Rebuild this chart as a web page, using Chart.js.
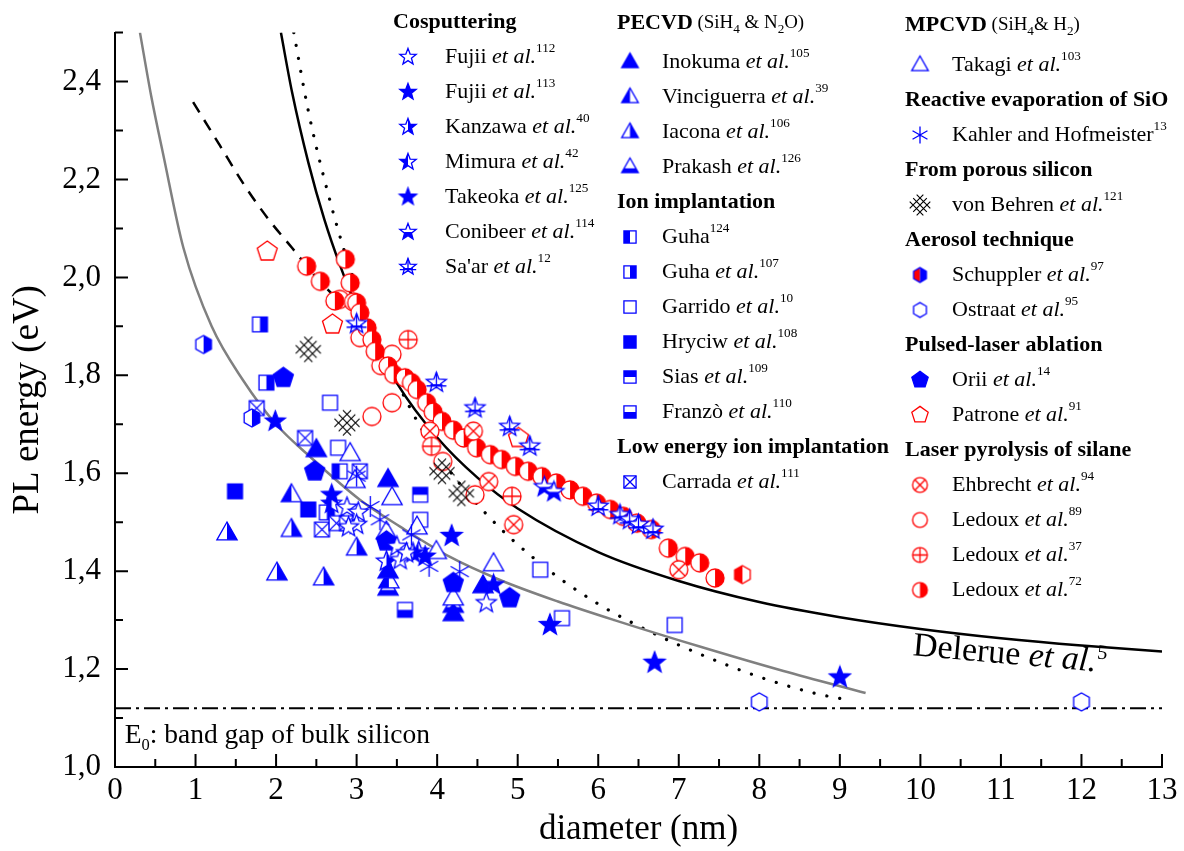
<!DOCTYPE html>
<html>
<head>
<meta charset="utf-8">
<script src="https://cdn.jsdelivr.net/npm/chart.js@4.4.1/dist/chart.umd.min.js"></script>
<style>
  html, body { margin: 0; padding: 0; background: #fff; }
  #wrap { width: 1184px; height: 851px; }
</style>
</head>
<body>
<div id="wrap"><canvas id="chart" width="1184" height="851"></canvas></div>
<script>
/* -------- Data -------- */

const X_TICKS = [0, 1, 2, 3, 4, 5, 6, 7, 8, 9, 10, 11, 12, 13];
const X_MINOR = [0.5, 1.5, 2.5, 3.5, 4.5, 5.5, 6.5, 7.5, 8.5, 9.5, 10.5, 11.5, 12.5];
const Y_TICKS = [1.0, 1.2, 1.4, 1.6, 1.8, 2.0, 2.2, 2.4];
const Y_MINOR = [1.1, 1.3, 1.5, 1.7, 1.9, 2.1, 2.3, 2.5];

// Cosputtering
const fujii112 = [[2.88, 1.53], [3.02, 1.52], [3.0, 1.495], [3.5, 1.45], [3.54, 1.423], [3.62, 1.437], [4.61, 1.335], [2.9, 1.49]];
const fujii113 = [[1.99, 1.706], [2.69, 1.556], [3.85, 1.43], [4.70, 1.372]];
const kanzawa  = [[3.37, 1.42], [3.7, 1.437]];
const mimura   = [[2.69, 1.538], [3.77, 1.44]];
const takeoka  = [[4.18, 1.472], [5.40, 1.29], [6.7, 1.213], [9.0, 1.183]];
const conibeer = [[5.33, 1.572], [5.45, 1.562]];
const saar     = [[3.0, 1.905], [3.99, 1.785], [4.47, 1.733], [4.90, 1.695], [5.15, 1.655], [6.0, 1.532], [6.27, 1.515], [6.39, 1.505], [6.5, 1.495], [6.68, 1.485]];
// PECVD
const inokuma     = [[2.5, 1.648], [3.39, 1.587], [3.39, 1.40], [4.57, 1.37], [4.2, 1.313]];
const vinciguerra = [[2.19, 1.556], [3.4, 1.38]];
const iacona      = [[1.39, 1.478], [2.01, 1.396], [2.59, 1.386], [3.0, 1.447], [2.19, 1.485]];
const prakash     = [[3.39, 1.365], [4.2, 1.33]];
// Ion implantation
const guha124 = [[2.79, 1.604]];
const guha107 = [[1.80, 1.904], [1.88, 1.785], [2.63, 1.52]];
const garrido = [[2.67, 1.744], [2.77, 1.652], [3.79, 1.505], [5.28, 1.403], [5.55, 1.304], [6.95, 1.29]];
const hryciw  = [[1.49, 1.563], [2.40, 1.526]];
const sias    = [[3.79, 1.556]];
const franzo  = [[3.6, 1.321]];
const carrada = [[1.76, 1.733], [2.36, 1.672], [2.57, 1.485], [2.75, 1.498], [2.88, 1.498], [3.04, 1.604]];
// MPCVD, evaporation, porous Si, aerosol, PLA
const takagi        = [[2.92, 1.64], [2.98, 1.585], [3.44, 1.55], [3.37, 1.48], [3.75, 1.49], [3.99, 1.44], [4.70, 1.415], [4.2, 1.345]];
const kahler        = [[3.0, 1.594], [3.17, 1.532], [3.29, 1.505], [3.68, 1.474], [3.9, 1.41], [4.28, 1.399]];
const vonBehren     = [[2.40, 1.853], [2.88, 1.703], [4.06, 1.604], [4.30, 1.559]];
const schupplerBlue = [[1.10, 1.863], [1.70, 1.713]];
const schupplerRed  = [[7.79, 1.393]];
const ostraat       = [[8.0, 1.133], [12.0, 1.133]];
const orii          = [[2.09, 1.795], [2.48, 1.604], [3.37, 1.461], [4.20, 1.376], [4.90, 1.345]];
const patrone       = [[1.89, 2.053], [2.70, 1.904], [5.01, 1.672]];
// Laser pyrolysis
const ehbrecht = [[3.91, 1.686], [4.45, 1.686], [4.64, 1.583], [4.95, 1.495], [7.0, 1.403]];
const ledoux89 = [[2.79, 1.955], [2.96, 1.95], [3.04, 1.877], [3.3, 1.82], [3.44, 1.843], [3.44, 1.744], [3.19, 1.716], [4.07, 1.624], [4.47, 1.556]];
const ledoux37 = [[3.64, 1.873], [3.93, 1.655], [4.93, 1.553]];
const ledoux72 = [[2.38, 2.023], [2.55, 1.992], [2.73, 1.952], [2.86, 2.037], [2.92, 1.989], [3.0, 1.948], [3.04, 1.928],
  [3.13, 1.897], [3.19, 1.873], [3.23, 1.849], [3.39, 1.819], [3.46, 1.802], [3.60, 1.795], [3.68, 1.785], [3.75, 1.771],
  [3.87, 1.744], [3.95, 1.725], [4.06, 1.706], [4.20, 1.688], [4.33, 1.672], [4.49, 1.652], [4.66, 1.638], [4.80, 1.628],
  [4.97, 1.614], [5.13, 1.604], [5.30, 1.593], [5.48, 1.580], [5.65, 1.566], [5.81, 1.553], [5.98, 1.539], [6.15, 1.526],
  [6.31, 1.512], [6.48, 1.498], [6.66, 1.485], [6.87, 1.447], [7.08, 1.430], [7.26, 1.417], [7.45, 1.386]];

// Curves
const grayCurve = [[0.31, 2.5], [0.45, 2.37], [0.6, 2.25], [0.85, 2.06], [1.2, 1.9], [1.59, 1.79], [2.0, 1.7], [2.42, 1.634],
  [3.04, 1.546], [3.54, 1.491], [4.16, 1.429], [4.78, 1.382], [5.5, 1.338], [6.2, 1.300], [7.26, 1.246], [8.3, 1.196], [9.32, 1.151]];
const delerue = [[2.06, 2.5], [2.2, 2.377], [2.4, 2.235], [2.6, 2.118], [2.8, 2.022], [3.0, 1.94], [3.5, 1.784], [4.0, 1.673],
  [4.5, 1.591], [5.0, 1.528], [6.0, 1.439], [7.0, 1.38], [8.0, 1.337], [9.0, 1.306], [10.0, 1.282], [11.0, 1.263], [12.0, 1.248], [13.0, 1.236]];
const dotted = [[2.22, 2.5], [2.4, 2.34], [2.6, 2.2], [2.9, 2.027], [3.23, 1.888], [3.63, 1.744], [4.0, 1.64], [4.62, 1.515],
  [5.3, 1.413], [6.0, 1.333], [6.7, 1.272], [7.3, 1.228], [8.0, 1.184], [8.7, 1.15], [9.0, 1.14]];
const dashed = [[0.97, 2.358], [1.3, 2.27], [1.6, 2.19], [1.9, 2.12], [2.2, 2.06], [2.5, 2.0], [2.85, 1.94]];
const bandGap = [[0, 1.12], [13, 1.12]];

/* -------- Markers -------- */

const BLUE = '#0000ff', RED = '#ff0000', BLACK = '#000000';
const FONT = '"Liberation Serif", "Times New Roman", serif';

function poly(c, r, n) {
  for (let i = 0; i < n; i++) {
    const a = -Math.PI / 2 + i * 2 * Math.PI / n;
    c.lineTo(r * Math.cos(a), r * Math.sin(a));
  }
}

const SHAPES = {
  star:   (c, r) => { for (let i = 0; i < 10; i++) { const a = -Math.PI / 2 + i * Math.PI / 5; const rr = i % 2 ? r * 0.42 : r; c.lineTo(rr * Math.cos(a), rr * Math.sin(a)); } },
  tri:    (c, r) => { c.moveTo(0, -r); c.lineTo(r * 0.92, r * 0.62); c.lineTo(-r * 0.92, r * 0.62); },
  square: (c, r) => { c.rect(-r * 0.78, -r * 0.78, r * 1.56, r * 1.56); },
  circle: (c, r) => { c.arc(0, 0, r, 0, Math.PI * 2); },
  pent:   (c, r) => poly(c, r, 5),
  hex:    (c, r) => poly(c, r, 6),
};

function makeMarker(shape, fill, color, size, extra) {
  const S = Math.ceil(size) + 4;
  const cv = document.createElement('canvas');
  cv.width = S; cv.height = S;
  const c = cv.getContext('2d');
  c.translate(S / 2, S / 2);
  const r = size / 2;
  c.lineWidth = 1.3;
  c.strokeStyle = color;

  if (shape === 'asterisk') {
    c.beginPath();
    [90, 30, 150].forEach(d => {
      const a = d * Math.PI / 180;
      c.moveTo(-r * Math.cos(a), -r * Math.sin(a));
      c.lineTo(r * Math.cos(a), r * Math.sin(a));
    });
    c.stroke();
    return cv;
  }
  if (shape === 'lattice') {
    const d = r * 0.5, L = r * 0.98, k2 = Math.SQRT1_2;
    c.lineWidth = 1.1;
    c.beginPath();
    [-1, 0, 1].forEach(k => {
      const ox = k * d * k2, oy = -k * d * k2;
      c.moveTo(ox - L * k2, oy - L * k2); c.lineTo(ox + L * k2, oy + L * k2);
      const px = k * d * k2, py = k * d * k2;
      c.moveTo(px - L * k2, py + L * k2); c.lineTo(px + L * k2, py - L * k2);
    });
    c.stroke();
    return cv;
  }

  const path = () => { c.beginPath(); SHAPES[shape](c, r); c.closePath(); };
  path(); c.fillStyle = '#fff'; c.fill();
  if (fill !== 'open') {
    c.save(); path(); c.clip();
    const split = shape === 'tri' ? r * 0.15 : 0;
    const big = r + 3;
    const rects = {
      filled: [-big, -big, 2 * big, 2 * big],
      left:   [-big, -big, big, 2 * big],
      right:  [0, -big, big, 2 * big],
      top:    [-big, -big, 2 * big, big + split],
      bottom: [-big, split, 2 * big, big],
    };
    if (fill === 'redblue') {
      c.fillStyle = RED; c.fillRect(...rects.left);
      c.fillStyle = BLUE; c.fillRect(...rects.right);
    } else {
      c.fillStyle = color; c.fillRect(...rects[fill]);
    }
    c.restore();
  }
  path(); c.stroke();

  c.beginPath();
  if (extra === 'x') {
    const q = shape === 'square' ? r * 0.78 : r * 0.7;
    c.moveTo(-q, -q); c.lineTo(q, q); c.moveTo(-q, q); c.lineTo(q, -q);
  } else if (extra === '+') {
    c.moveTo(-r, 0); c.lineTo(r, 0); c.moveTo(0, -r); c.lineTo(0, r);
  } else if (extra === 'lines') {
    const ax = r * Math.cos(-Math.PI / 2 + 2 * Math.PI / 5), ay = r * Math.sin(-Math.PI / 2 + 2 * Math.PI / 5);
    c.moveTo(0, -r); c.lineTo(0, r * 0.55);
    c.moveTo(-ax, -ay); c.lineTo(ax, -ay);
    c.moveTo(-ax * 0.6, r * 0.2); c.lineTo(ax * 0.6, r * 0.2);
  }
  c.stroke();
  return cv;
}

// style table: shape, fill, colour, size, extra
const STYLE = {
  fujii112:      ['star', 'open', BLUE, 21],
  fujii113:      ['star', 'filled', BLUE, 21],
  kanzawa:       ['star', 'right', BLUE, 21],
  mimura:        ['star', 'left', BLUE, 21],
  takeoka:       ['star', 'filled', BLUE, 22],
  conibeer:      ['star', 'bottom', BLUE, 21],
  saar:          ['star', 'open', BLUE, 21, 'lines'],
  inokuma:       ['tri', 'filled', BLUE, 22],
  vinciguerra:   ['tri', 'left', BLUE, 22],
  iacona:        ['tri', 'right', BLUE, 22],
  prakash:       ['tri', 'bottom', BLUE, 22],
  guha124:       ['square', 'left', BLUE, 19],
  guha107:       ['square', 'right', BLUE, 19],
  garrido:       ['square', 'open', BLUE, 19],
  hryciw:        ['square', 'filled', BLUE, 19],
  sias:          ['square', 'top', BLUE, 19],
  franzo:        ['square', 'bottom', BLUE, 19],
  carrada:       ['square', 'open', BLUE, 19, 'x'],
  takagi:        ['tri', 'open', BLUE, 22],
  kahler:        ['asterisk', 'open', BLUE, 21],
  vonBehren:     ['lattice', 'open', BLACK, 24],
  schupplerLeg:  ['hex', 'redblue', BLUE, 18],
  schupplerBlue: ['hex', 'right', BLUE, 18],
  schupplerRed:  ['hex', 'left', RED, 18],
  ostraat:       ['hex', 'open', BLUE, 18],
  orii:          ['pent', 'filled', BLUE, 21],
  patrone:       ['pent', 'open', RED, 21],
  ehbrecht:      ['circle', 'open', RED, 18, 'x'],
  ledoux89:      ['circle', 'open', RED, 18],
  ledoux37:      ['circle', 'open', RED, 18, '+'],
  ledoux72:      ['circle', 'right', RED, 18],
};

const MARKER = {}, LEG_MARKER = {};
Object.entries(STYLE).forEach(([k, s]) => {
  MARKER[k] = makeMarker(s[0], s[1], s[2], s[3], s[4]);
  LEG_MARKER[k] = makeMarker(s[0], s[1], s[2], s[3] * 0.82, s[4]);
});

/* -------- Datasets -------- */

const toXY = arr => arr.map(([x, y]) => ({ x, y }));

function pointSet(key, arr, order) {
  return { label: key, data: toXY(arr), pointStyle: MARKER[key], pointRadius: 5, showLine: false, order };
}
function curveSet(label, arr, color, width, dash, cap) {
  return {
    label, data: toXY(arr), showLine: true, pointRadius: 0, borderColor: color, borderWidth: width,
    borderDash: dash, borderCapStyle: cap || 'butt', cubicInterpolationMode: 'monotone', fill: false, order: 50,
  };
}

const datasets = [
  curveSet('band gap', bandGap, '#000', 2, [16, 5, 3, 5]),
  curveSet('gray', grayCurve, '#808080', 2.5, []),
  curveSet('dashed', dashed, '#000', 2.5, [12, 9]),
  curveSet('delerue', delerue, '#000', 2.5, []),
  curveSet('dotted', dotted, '#000', 3.2, [0.1, 13], 'round'),

  pointSet('ledoux72', ledoux72, 20),
  pointSet('ledoux89', ledoux89, 21),
  pointSet('ledoux37', ledoux37, 19),
  pointSet('ehbrecht', ehbrecht, 19),
  pointSet('patrone', patrone, 19),
  pointSet('schupplerRed', schupplerRed, 19),

  pointSet('garrido', garrido, 9),
  pointSet('carrada', carrada, 9),
  pointSet('guha124', guha124, 9),
  pointSet('guha107', guha107, 9),
  pointSet('hryciw', hryciw, 9),
  pointSet('sias', sias, 9),
  pointSet('franzo', franzo, 9),
  pointSet('takagi', takagi, 8),
  pointSet('inokuma', inokuma, 8),
  pointSet('vinciguerra', vinciguerra, 8),
  pointSet('iacona', iacona, 8),
  pointSet('prakash', prakash, 8),
  pointSet('orii', orii, 7),
  pointSet('schupplerBlue', schupplerBlue, 7),
  pointSet('ostraat', ostraat, 7),
  pointSet('vonBehren', vonBehren, 7),
  pointSet('kahler', kahler, 6),
  pointSet('fujii112', fujii112, 5),
  pointSet('fujii113', fujii113, 5),
  pointSet('kanzawa', kanzawa, 5),
  pointSet('mimura', mimura, 5),
  pointSet('takeoka', takeoka, 5),
  pointSet('conibeer', conibeer, 4),
  pointSet('saar', saar, 4),
];

/* -------- Legend (drawn on canvas) -------- */

const ET_AL = ['et al.', 'i'];
const LEGEND_COLS = [
  { hx: 393, mx: 408, tx: 445, hy: 22, y0: 57, rows: [
    { head: [['Cosputtering', 'b']] },
    { mk: 'fujii112', text: [['Fujii ', ''], ET_AL, ['112', 'sup']] },
    { mk: 'fujii113', text: [['Fujii ', ''], ET_AL, ['113', 'sup']] },
    { mk: 'kanzawa', text: [['Kanzawa ', ''], ET_AL, ['40', 'sup']] },
    { mk: 'mimura', text: [['Mimura ', ''], ET_AL, ['42', 'sup']] },
    { mk: 'takeoka', text: [['Takeoka ', ''], ET_AL, ['125', 'sup']] },
    { mk: 'conibeer', text: [['Conibeer ', ''], ET_AL, ['114', 'sup']] },
    { mk: 'saar', text: [["Sa'ar ", ''], ET_AL, ['12', 'sup']] },
  ] },
  { hx: 617, mx: 630, tx: 662, hy: 23, y0: 62, rows: [
    { head: [['PECVD', 'b'], [' (SiH', 'h'], ['4', 'hsub'], [' & N', 'h'], ['2', 'hsub'], ['O)', 'h']] },
    { mk: 'inokuma', text: [['Inokuma ', ''], ET_AL, ['105', 'sup']] },
    { mk: 'vinciguerra', text: [['Vinciguerra ', ''], ET_AL, ['39', 'sup']] },
    { mk: 'iacona', text: [['Iacona ', ''], ET_AL, ['106', 'sup']] },
    { mk: 'prakash', text: [['Prakash ', ''], ET_AL, ['126', 'sup']] },
    { head: [['Ion implantation', 'b']] },
    { mk: 'guha124', text: [['Guha', ''], ['124', 'sup']] },
    { mk: 'guha107', text: [['Guha ', ''], ET_AL, ['107', 'sup']] },
    { mk: 'garrido', text: [['Garrido ', ''], ET_AL, ['10', 'sup']] },
    { mk: 'hryciw', text: [['Hryciw ', ''], ET_AL, ['108', 'sup']] },
    { mk: 'sias', text: [['Sias ', ''], ET_AL, ['109', 'sup']] },
    { mk: 'franzo', text: [['Franzò ', ''], ET_AL, ['110', 'sup']] },
    { head: [['Low energy ion implantation', 'b']] },
    { mk: 'carrada', text: [['Carrada ', ''], ET_AL, ['111', 'sup']] },
  ] },
  { hx: 905, mx: 920, tx: 952, hy: 25, y0: 65, rows: [
    { head: [['MPCVD', 'b'], [' (SiH', 'h'], ['4', 'hsub'], ['& H', 'h'], ['2', 'hsub'], [')', 'h']] },
    { mk: 'takagi', text: [['Takagi ', ''], ET_AL, ['103', 'sup']] },
    { head: [['Reactive evaporation of SiO', 'b']] },
    { mk: 'kahler', text: [['Kahler and Hofmeister', ''], ['13', 'sup']] },
    { head: [['From porous silicon', 'b']] },
    { mk: 'vonBehren', text: [['von Behren ', ''], ET_AL, ['121', 'sup']] },
    { head: [['Aerosol technique', 'b']] },
    { mk: 'schupplerLeg', text: [['Schuppler ', ''], ET_AL, ['97', 'sup']] },
    { mk: 'ostraat', text: [['Ostraat ', ''], ET_AL, ['95', 'sup']] },
    { head: [['Pulsed-laser ablation', 'b']] },
    { mk: 'orii', text: [['Orii ', ''], ET_AL, ['14', 'sup']] },
    { mk: 'patrone', text: [['Patrone ', ''], ET_AL, ['91', 'sup']] },
    { head: [['Laser pyrolysis of silane', 'b']] },
    { mk: 'ehbrecht', text: [['Ehbrecht ', ''], ET_AL, ['94', 'sup']] },
    { mk: 'ledoux89', text: [['Ledoux ', ''], ET_AL, ['89', 'sup']] },
    { mk: 'ledoux37', text: [['Ledoux ', ''], ET_AL, ['37', 'sup']] },
    { mk: 'ledoux72', text: [['Ledoux ', ''], ET_AL, ['72', 'sup']] },
  ] },
];

const ROW_STEP = 35;
const ITEM_SIZE = 22, HEAD_SIZE = 22;

function drawRich(ctx, x, y, parts, size) {
  let cx = x;
  parts.forEach(([t, st]) => {
    let f = size, dy = 0, style = '';
    if (st === 'i') style = 'italic ';
    if (st === 'b') style = 'bold ';
    if (st === 'sup') { f = size * 0.6; dy = -size * 0.38; }
    if (st === 'sub') { f = size * 0.6; dy = size * 0.28; }
    if (st === 'h') { f = size * 0.86; }
    if (st === 'hsub') { f = size * 0.6; dy = size * 0.3; }
    ctx.font = `${style}${f}px ${FONT}`;
    ctx.fillText(t, cx, y + dy);
    cx += ctx.measureText(t).width;
  });
}

const legendPlugin = {
  id: 'sourceLegend',
  afterDraw(chart) {
    const ctx = chart.ctx;
    ctx.save();
    ctx.fillStyle = '#000';
    ctx.textBaseline = 'middle';
    LEGEND_COLS.forEach(col => {
      let y = col.hy, first = true;
      col.rows.forEach(row => {
        if (!first) y = (y === col.hy) ? col.y0 : y + ROW_STEP;
        first = false;
        if (row.head) {
          drawRich(ctx, col.hx, y, row.head, HEAD_SIZE);
        } else {
          const m = LEG_MARKER[row.mk];
          ctx.drawImage(m, col.mx - m.width / 2, y - m.height / 2);
          drawRich(ctx, col.tx, y, row.text, ITEM_SIZE);
        }
      });
    });
    ctx.restore();
  }
};

/* -------- Ticks + labels -------- */

const axisPlugin = {
  id: 'innerTicks',
  afterDatasetsDraw(chart) {
    const { ctx, chartArea: a, scales: { x, y } } = chart;
    ctx.save();
    ctx.strokeStyle = '#000';
    ctx.lineWidth = 2;
    ctx.beginPath();
    X_TICKS.forEach(v => { const p = x.getPixelForValue(v); ctx.moveTo(p, a.bottom); ctx.lineTo(p, a.bottom - 13); });
    X_MINOR.forEach(v => { const p = x.getPixelForValue(v); ctx.moveTo(p, a.bottom); ctx.lineTo(p, a.bottom - 8); });
    Y_TICKS.forEach(v => { const p = y.getPixelForValue(v); ctx.moveTo(a.left, p); ctx.lineTo(a.left + 13, p); });
    Y_MINOR.forEach(v => { const p = y.getPixelForValue(v); ctx.moveTo(a.left, p); ctx.lineTo(a.left + 8, p); });
    ctx.stroke();

    // annotations
    ctx.fillStyle = '#000';
    ctx.textBaseline = 'alphabetic';
    drawRich(ctx, x.getPixelForValue(0.12), y.getPixelForValue(1.05),
      [['E', ''], ['0', 'sub'], [': band gap of bulk silicon', '']], 27.5);

    ctx.save();
    ctx.translate(x.getPixelForValue(9.9), y.getPixelForValue(1.228));
    ctx.rotate(5 * Math.PI / 180);
    drawRich(ctx, 0, 0, [['Delerue ', ''], ET_AL, ['5', 'sup']], 34);
    ctx.restore();
    ctx.restore();
  }
};

/* -------- Chart -------- */

const tickFont = { family: FONT, size: 31 };

new Chart(document.getElementById('chart').getContext('2d'), {
  type: 'scatter',
  data: { datasets },
  options: {
    responsive: false,
    animation: false,
    devicePixelRatio: 1,
    layout: { padding: { top: 32, right: 22, left: 0, bottom: 0 } },
    plugins: { legend: { display: false }, tooltip: { enabled: false } },
    scales: {
      x: {
        type: 'linear', min: 0, max: 13,
        afterFit: s => { s.height = 84; },
        afterBuildTicks: s => { s.ticks = X_TICKS.map(v => ({ value: v })); },
        grid: { display: false, drawTicks: false },
        border: { display: true, color: '#000', width: 2 },
        ticks: { font: tickFont, color: '#000', padding: 5, maxRotation: 0, callback: v => String(v) },
        title: { display: true, text: 'diameter (nm)', font: { family: FONT, size: 35 }, color: '#000', padding: { top: 0, bottom: 0 } },
      },
      y: {
        type: 'linear', min: 1.0, max: 2.5,
        afterFit: s => { s.width = 115; },
        afterBuildTicks: s => { s.ticks = Y_TICKS.map(v => ({ value: v })); },
        grid: { display: false, drawTicks: false },
        border: { display: true, color: '#000', width: 2 },
        ticks: { font: tickFont, color: '#000', padding: 14, callback: v => v.toFixed(1).replace('.', ',') },
        title: { display: true, text: 'PL energy (eV)', font: { family: FONT, size: 37 }, color: '#000', padding: { top: 6, bottom: 0 } },
      },
    },
  },
  plugins: [axisPlugin, legendPlugin],
});
</script>
</body>
</html>
